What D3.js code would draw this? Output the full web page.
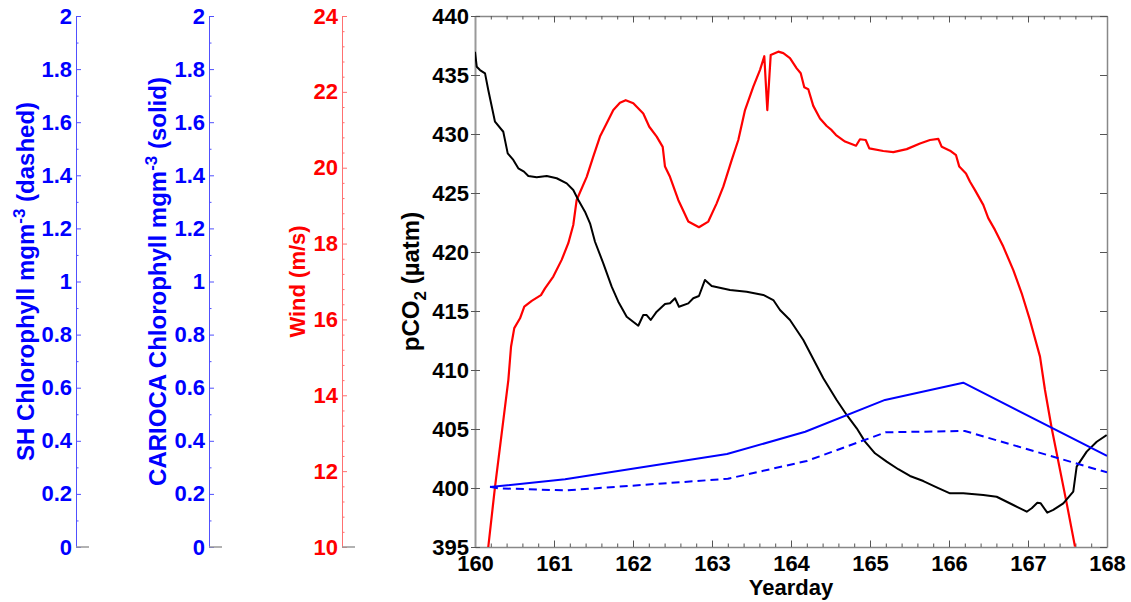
<!DOCTYPE html>
<html>
<head>
<meta charset="utf-8">
<script src="https://cdn.jsdelivr.net/npm/d3@7"></script>
<style>
body { margin: 0; background: #fff; }
svg { display: block; font-family: "Liberation Sans", Arial, sans-serif; font-weight: bold; }
</style>
</head>
<body>
<svg width="1131" height="602"></svg>
<script>
// yearday, wind speed (m/s)
var windDays = [160.168,160.253,160.422,160.456,160.497,160.570,160.624,160.718,160.835,160.886,160.991,161.097,161.181,161.244,161.287,161.414,161.497,161.582,161.667,161.751,161.835,161.908,162.004,162.130,162.206,162.300,162.376,162.405,162.468,162.573,162.700,162.835,162.953,163.059,163.143,163.249,163.333,163.418,163.523,163.608,163.662,163.700,163.743,163.839,163.903,163.987,164.072,164.123,164.168,164.219,164.282,164.367,164.452,164.515,164.570,164.684,164.823,164.873,164.946,164.991,165.168,165.295,165.465,165.633,165.759,165.865,165.908,166.013,166.089,166.130,166.215,166.266,166.329,166.434,166.497,166.582,166.687,166.814,166.920,167.025,167.152,167.215,167.300,167.490,167.595];
var windSpeed = [10.00,11.58,14.40,15.28,15.77,16.03,16.34,16.49,16.64,16.82,17.13,17.57,18.01,18.49,19.15,19.76,20.29,20.82,21.17,21.52,21.71,21.78,21.70,21.43,21.08,20.82,20.55,20.03,19.76,19.15,18.58,18.43,18.58,19.06,19.50,20.20,20.73,21.52,22.14,22.58,22.94,21.52,22.97,23.06,23.02,22.89,22.62,22.49,22.12,22.07,21.63,21.30,21.10,20.99,20.86,20.69,20.58,20.75,20.73,20.51,20.44,20.41,20.49,20.64,20.73,20.76,20.55,20.45,20.33,20.03,19.85,19.63,19.41,19.02,18.67,18.36,17.92,17.30,16.69,15.98,15.02,14.14,13.13,11.15,10.01];

// yearday, pCO2 (uatm)
var pco2Days = [160.000,160.022,160.063,160.127,160.168,160.253,160.358,160.414,160.485,160.548,160.620,160.675,160.781,160.908,161.034,161.161,161.244,161.308,161.392,161.456,161.519,161.624,161.730,161.814,161.920,162.067,162.130,162.173,162.224,162.300,162.405,162.468,162.532,162.582,162.700,162.763,162.835,162.911,162.996,163.228,163.439,163.649,163.776,163.861,163.987,164.156,164.409,164.578,164.705,164.832,164.937,165.063,165.211,165.358,165.506,165.675,165.844,166.013,166.181,166.434,166.603,166.814,166.984,167.047,167.118,167.161,167.244,167.320,167.447,167.573,167.616,167.743,167.870,167.996];
var pco2Values = [436.97,435.70,435.42,435.14,433.73,431.04,430.19,428.36,427.80,427.09,426.81,426.44,426.33,426.44,426.25,425.82,425.25,424.41,423.42,422.43,420.87,419.04,417.06,415.79,414.52,413.75,414.66,414.66,414.24,414.94,415.59,415.65,416.08,415.36,415.65,416.08,416.27,417.63,417.12,416.78,416.64,416.36,415.93,415.08,414.24,412.54,409.30,407.46,406.19,405.06,403.93,402.94,402.23,401.59,401.02,400.59,400.06,399.55,399.55,399.41,399.26,398.56,397.99,398.28,398.75,398.70,397.91,398.14,398.70,399.69,401.81,403.08,403.92,404.49];

// chlorophyll (mg m-3)
var cariocaDays = [160.19,161.14,163.19,164.18,165.19,166.18,168.00];
var cariocaChl = [0.226,0.255,0.350,0.434,0.554,0.619,0.343];
var shDays = [160.19,160.30,161.15,163.20,164.20,165.20,166.20,168.00];
var shChl = [0.227,0.221,0.213,0.257,0.324,0.432,0.437,0.281];

// tick labels
var yeardayTicks = [160,161,162,163,164,165,166,167,168];
var pco2Ticks = [395,400,405,410,415,420,425,430,435,440];
var windTicks = [10,12,14,16,18,20,22,24];
var chlTicks = [0,0.2,0.4,0.6,0.8,1,1.2,1.4,1.6,1.8,2];

var svg = d3.select("svg");
var plot = {left:475, right:1107, top:16, bottom:547};
var fs = 22;

var x = d3.scaleLinear().domain([160,168]).range([plot.left, plot.right]);
var yP = d3.scaleLinear().domain([395,440]).range([plot.bottom, plot.top]);
var yW = d3.scaleLinear().domain([10,24]).range([plot.bottom, plot.top]);
var yC = d3.scaleLinear().domain([0,2]).range([plot.bottom, plot.top]);

function styleAxis(g, lineColor, textColor, width) {
    g.select(".domain").attr("stroke", lineColor).attr("stroke-width", width || 1);
    g.selectAll(".tick line").attr("stroke", lineColor);
    g.selectAll(".tick text").attr("fill", textColor).style("font-size", fs + "px")
        .style("font-family", "'Liberation Sans', Arial, sans-serif").style("font-weight", "bold");
}

// ---- side axes (chlorophyll x2, wind)
function sideAxis(xpos, scale, ticks, minor, lineColor, textColor, title, sup, rest, titleX, titleSize) {
    var g = svg.append("g").attr("transform", "translate(" + xpos + ",0)");
    g.call(d3.axisLeft(scale).tickValues(ticks).tickSizeInner(-5).tickSizeOuter(0).tickPadding(4)
        .tickFormat(function(d){ return String(d); }));
    styleAxis(g, lineColor, textColor);
    var m = svg.append("g").attr("transform", "translate(" + xpos + ",0)");
    m.call(d3.axisLeft(scale).tickValues(minor).tickSizeInner(-2.5).tickSizeOuter(0).tickFormat(""));
    m.select(".domain").remove();
    m.selectAll(".tick line").attr("stroke", lineColor);
    // short gray stub of the hidden x axis
    svg.append("line").attr("x1", xpos).attr("x2", xpos + 13)
        .attr("y1", plot.bottom).attr("y2", plot.bottom).attr("stroke", "#999").attr("stroke-width", 1.5);
    var t = svg.append("text")
        .attr("transform", "translate(" + titleX + "," + ((plot.top + plot.bottom) / 2) + ") rotate(-90)")
        .attr("text-anchor", "middle").attr("fill", textColor).style("font-size", titleSize + "px");
    t.append("tspan").text(title);
    if (sup) {
        t.append("tspan").attr("dy", -9).style("font-size", "17px").text(sup);
        t.append("tspan").attr("dy", 9).text(rest);
    }
}

var chlMinor = d3.range(1, 20, 2).map(function(i){ return i / 10; });
var windMinor = d3.range(0, 36).map(function(i){ return 10 + i * 0.4; })
    .filter(function(v){ return Math.abs(v / 2 - Math.round(v / 2)) > 0.01; });

sideAxis(76, yC, chlTicks, chlMinor, "#5050ff", "#0000ff", "SH Chlorophyll mgm", "-3", " (dashed)", 34, 24);
sideAxis(209, yC, chlTicks, chlMinor, "#5050ff", "#0000ff", "CARIOCA Chlorophyll mgm", "-3", " (solid)", 166, 24);
sideAxis(342, yW, windTicks, windMinor, "#ff7070", "#ff0000", "Wind (m/s)", null, null, 305, 22);

// ---- main plot
var xMinor = d3.range(0, 41).map(function(i){ return 160 + i * 0.2; })
    .filter(function(v){ return Math.abs(v - Math.round(v)) > 0.01; });

var gb = svg.append("g").attr("transform", "translate(0," + plot.bottom + ")");
gb.call(d3.axisBottom(x).tickValues(yeardayTicks).tickSizeInner(-6.5).tickSizeOuter(0).tickPadding(8)
    .tickFormat(d3.format("d")));
styleAxis(gb, "#888", "#000", 1.5);
gb.selectAll(".tick line").attr("stroke", "#555");
var gbm = svg.append("g").attr("transform", "translate(0," + plot.bottom + ")");
gbm.call(d3.axisBottom(x).tickValues(xMinor).tickSizeInner(-3.5).tickSizeOuter(0).tickFormat(""));
gbm.select(".domain").remove();
gbm.selectAll(".tick line").attr("stroke", "#555");

var gt = svg.append("g").attr("transform", "translate(0," + plot.top + ")");
gt.call(d3.axisTop(x).tickValues(yeardayTicks).tickSizeInner(-6.5).tickSizeOuter(0).tickFormat(""));
styleAxis(gt, "#888", "#000", 1.5);
gt.selectAll(".tick line").attr("stroke", "#555");
var gtm = svg.append("g").attr("transform", "translate(0," + plot.top + ")");
gtm.call(d3.axisTop(x).tickValues(xMinor).tickSizeInner(-3.5).tickSizeOuter(0).tickFormat(""));
gtm.select(".domain").remove();
gtm.selectAll(".tick line").attr("stroke", "#555");

var gl = svg.append("g").attr("transform", "translate(" + plot.left + ",0)");
gl.call(d3.axisLeft(yP).tickValues(pco2Ticks).tickSizeInner(4).tickSizeOuter(0).tickPadding(2)
    .tickFormat(d3.format("d")));
styleAxis(gl, "#999", "#000", 2);
gl.selectAll(".tick line").attr("stroke", "#555");
var gli = svg.append("g").attr("transform", "translate(" + plot.left + ",0)");
gli.call(d3.axisLeft(yP).tickValues(pco2Ticks).tickSizeInner(-5).tickSizeOuter(0).tickFormat(""));
gli.select(".domain").remove();
gli.selectAll(".tick line").attr("stroke", "#555");

var gr = svg.append("g").attr("transform", "translate(" + plot.right + ",0)");
gr.call(d3.axisRight(yP).tickValues(pco2Ticks).tickSizeInner(-7).tickSizeOuter(0).tickFormat(""));
styleAxis(gr, "#888", "#000", 1.5);
gr.selectAll(".tick line").attr("stroke", "#555");

// titles of main plot
svg.append("text").attr("x", (plot.left + plot.right) / 2).attr("y", 595)
    .attr("text-anchor", "middle").attr("fill", "#000").style("font-size", fs + "px").text("Yearday");

var pt = svg.append("text")
    .attr("transform", "translate(419," + ((plot.top + plot.bottom) / 2) + ") rotate(-90)")
    .attr("text-anchor", "middle").attr("fill", "#000").style("font-size", "24px");
pt.append("tspan").text("pCO");
pt.append("tspan").attr("dy", 7).style("font-size", "17px").text("2");
pt.append("tspan").attr("dy", -7).text(" (\u00b5atm)");

// ---- data lines
svg.append("clipPath").attr("id", "clip").append("rect")
    .attr("x", plot.left).attr("y", plot.top)
    .attr("width", plot.right - plot.left).attr("height", plot.bottom - plot.top);
var lines = svg.append("g").attr("clip-path", "url(#clip)").attr("fill", "none")
    .attr("stroke-linejoin", "round");

function pairs(xs, ys) { return xs.map(function(d, i){ return [d, ys[i]]; }); }

lines.append("path").datum(pairs(windDays, windSpeed))
    .attr("d", d3.line().x(function(d){ return x(d[0]); }).y(function(d){ return yW(d[1]); }))
    .attr("stroke", "#ff0000").attr("stroke-width", 2.2);

lines.append("path").datum(pairs(pco2Days, pco2Values))
    .attr("d", d3.line().x(function(d){ return x(d[0]); }).y(function(d){ return yP(d[1]); }))
    .attr("stroke", "#000").attr("stroke-width", 2);

lines.append("path").datum(pairs(cariocaDays, cariocaChl))
    .attr("d", d3.line().x(function(d){ return x(d[0]); }).y(function(d){ return yC(d[1]); }))
    .attr("stroke", "#0000ff").attr("stroke-width", 2);

lines.append("path").datum(pairs(shDays, shChl))
    .attr("d", d3.line().x(function(d){ return x(d[0]); }).y(function(d){ return yC(d[1]); }))
    .attr("stroke", "#0000ff").attr("stroke-width", 2).attr("stroke-dasharray", "8,5");
</script>
</body>
</html>
